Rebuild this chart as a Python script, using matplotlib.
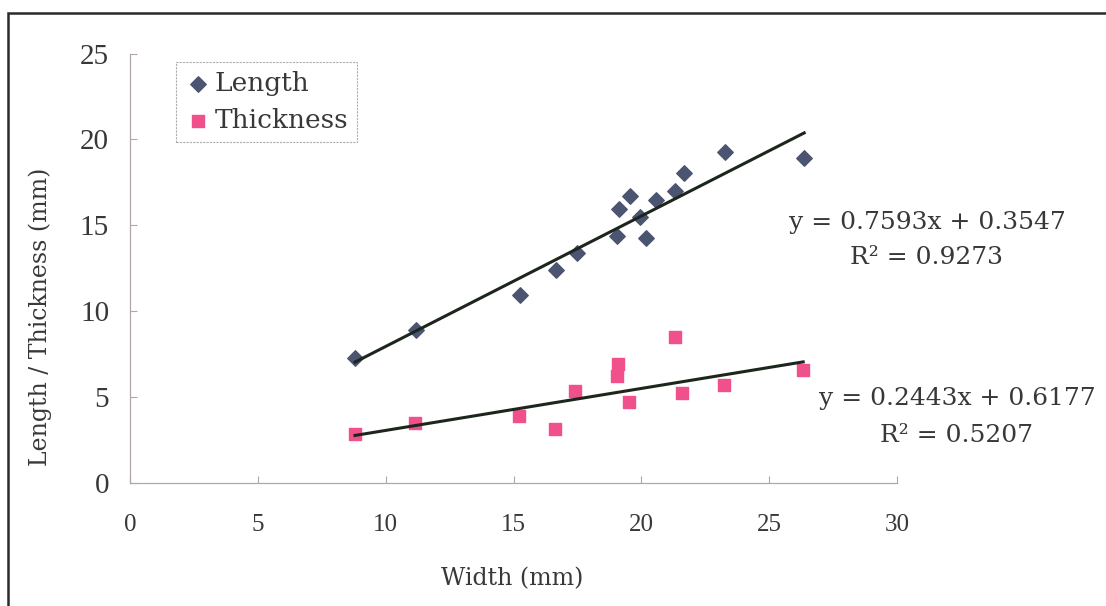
import matplotlib
matplotlib.use('Agg')
import matplotlib.pyplot as plt
from matplotlib.patches import Rectangle

# Length data (width, length)
length_width = [8.8, 11.19, 15.25, 16.65, 17.47, 19.05, 19.11, 19.55, 19.95,
                20.18, 20.59, 21.31, 21.67, 23.29, 26.37]
length_vals = [7.28, 8.88, 10.96, 12.41, 13.38, 14.35, 15.95, 16.72, 15.46,
               14.26, 16.49, 16.98, 18.05, 19.27, 18.92]

# Thickness data (width, thickness)
thick_width = [8.8, 11.15, 15.23, 16.62, 17.40, 19.03, 19.09, 19.52, 21.31,
               21.61, 23.24, 26.33]
thick_vals = [2.86, 3.48, 3.9, 3.15, 5.36, 6.2, 6.92, 4.74, 8.49, 5.22, 5.71, 6.58]

# Linear fits shown on the chart
length_fit = (0.7593, 0.3547, 0.9273)
thick_fit = (0.2443, 0.6177, 0.5207)

x_ticks = [0, 5, 10, 15, 20, 25, 30]
y_ticks = [0, 5, 10, 15, 20, 25]

text_col = '#383838'
serif = 'DejaVu Serif'
tick_font = 'Liberation Serif'

fig = plt.figure(figsize=(11.06, 6.06), dpi=100)
fig.patch.set_facecolor('white')
ax = fig.add_axes([130 / 1106, 1 - 483 / 606, 767 / 1106, 429.5 / 606])

# outer frame (cut off at right and bottom)
fig.add_artist(Rectangle((8 / 1106, -0.05), 1.2, 1 - 13 / 606 + 0.05,
                         transform=fig.transFigure, fill=False,
                         edgecolor='#2a2a2a', linewidth=1.8))

ax.scatter(length_width, length_vals, marker='D', s=62, color='#4b5470',
           label='Length', zorder=3)
ax.scatter(thick_width, thick_vals, marker='s', s=70, color='#f0508c',
           label='Thickness', zorder=3)

for xs, (m, b, r2) in [(length_width, length_fit), (thick_width, thick_fit)]:
    x0, x1 = min(xs), max(xs)
    ax.plot([x0, x1], [m * x0 + b, m * x1 + b], color='#1c261c',
            linewidth=2.2, zorder=4)

ax.set_xlim(0, 30)
ax.set_ylim(0, 25)
ax.set_xticks(x_ticks)
ax.set_yticks(y_ticks)
for s in ['top', 'right']:
    ax.spines[s].set_visible(False)
for s in ['left', 'bottom']:
    ax.spines[s].set_color('#b0a8a8')
    ax.spines[s].set_linewidth(0.9)
ax.tick_params(axis='both', direction='in', length=5, color='#b0a8a8',
               labelcolor=text_col)
ax.tick_params(axis='x', pad=22, labelsize=18)
ax.tick_params(axis='y', pad=15, labelsize=21)
for lab in ax.get_xticklabels() + ax.get_yticklabels():
    lab.set_fontfamily(tick_font)

ax.set_xlabel('Width (mm)', fontsize=17, family=serif, color=text_col)
ax.set_ylabel('Length / Thickness (mm)', fontsize=17, family=serif,
              color=text_col)
ax.xaxis.set_label_coords(0.498, -0.196)
ax.yaxis.set_label_coords(-0.102, 0.386)

leg = ax.legend(loc='upper left', bbox_to_anchor=(0.06, 0.98), frameon=True,
                prop={'family': serif, 'size': 19}, handletextpad=0.1,
                handlelength=1.0, borderpad=0.35, labelspacing=0.45,
                fancybox=False, borderaxespad=0)
leg.get_frame().set_edgecolor('#999999')
leg.get_frame().set_linestyle((0, (2, 1)))
leg.get_frame().set_linewidth(0.8)
for t in leg.get_texts():
    t.set_color(text_col)

# equation labels
eqs = [(length_fit, 927, 222, 257), (thick_fit, 957, 398, 435)]
for (m, b, r2), cx, y1, y2 in eqs:
    fig.text(cx / 1106, 1 - y1 / 606, f'y = {m:.4f}x + {b:.4f}', ha='center',
             va='center', fontsize=18, family=serif, color=text_col)
    fig.text(cx / 1106, 1 - y2 / 606, f'R² = {r2:.4f}', ha='center',
             va='center', fontsize=18, family=serif, color=text_col)

fig.savefig('out.png', dpi=100, facecolor='white')
